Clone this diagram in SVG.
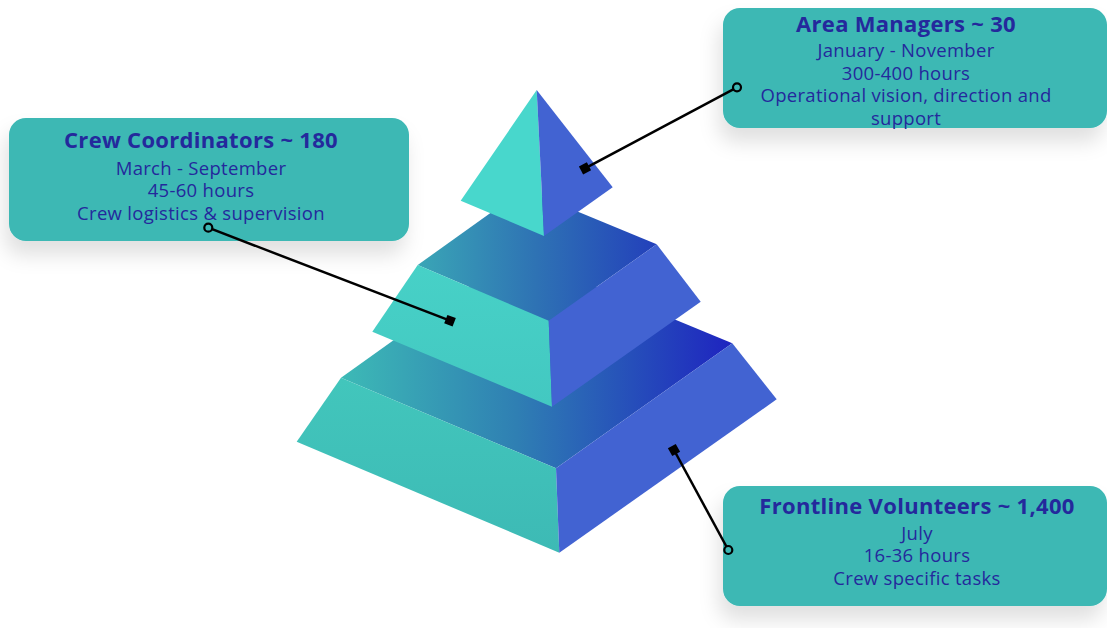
<svg xmlns="http://www.w3.org/2000/svg" width="1107" height="628" viewBox="0 0 1107 628">
<defs>
<filter id="sh" x="-20%" y="-30%" width="140%" height="170%">
<feDropShadow dx="-4" dy="14" stdDeviation="10" flood-color="#000" flood-opacity="0.12"/>
</filter>
<linearGradient id="gMid" gradientUnits="userSpaceOnUse" x1="417" y1="0" x2="657" y2="0">
<stop offset="0" stop-color="#3aa6b6"/><stop offset="0.5" stop-color="#2e72b4"/><stop offset="1" stop-color="#2340bb"/>
</linearGradient>
<linearGradient id="gBot" gradientUnits="userSpaceOnUse" x1="341" y1="0" x2="732" y2="0">
<stop offset="0" stop-color="#3dbab6"/><stop offset="0.45" stop-color="#2f7fb3"/><stop offset="1" stop-color="#1e24c0"/>
</linearGradient>
<linearGradient id="gLeftB" x1="0" y1="0" x2="0" y2="1">
<stop offset="0" stop-color="#42c6bc"/><stop offset="1" stop-color="#3dbab5"/>
</linearGradient>
<linearGradient id="gLeftM" x1="0" y1="0" x2="0" y2="1">
<stop offset="0" stop-color="#47d1c7"/><stop offset="1" stop-color="#43c8c1"/>
</linearGradient>
</defs>
<style>
.box{fill:#3cb8b4}
.title{font-family:"Open Sans","Liberation Sans",sans-serif;font-weight:bold;font-size:22px;letter-spacing:0.3px;fill:#24299c;text-anchor:middle}
.body{font-family:"Open Sans","Liberation Sans",sans-serif;font-size:18.5px;letter-spacing:0.3px;fill:#24299c;text-anchor:middle}
.right{fill:#4263d2}
.con{stroke:#000;stroke-width:2.5;fill:none}
.dot{fill:#3cb8b4;stroke:#000;stroke-width:2.2}
</style>
<rect width="1107" height="628" fill="#fff"/>
<g id="pyramid">
<g id="tier-bottom">
<polygon points="341,377.7 515,253.4 732.3,343.3 556,468.3" fill="url(#gBot)"/>
<polygon points="341,377.7 556,468.3 559.3,552.7 296.7,441.7" fill="url(#gLeftB)"/>
<polygon points="556,468.3 732.3,343.3 776.7,399.3 559.3,552.7" class="right"/>
</g>
<g id="tier-middle">
<polygon points="417.7,265 523.6,189.3 656.7,244.3 548.7,320.7" fill="url(#gMid)"/>
<polygon points="417.7,265 548.7,320.7 552,406.7 372.3,331.7" fill="url(#gLeftM)"/>
<polygon points="548.7,320.7 656.7,244.3 700.7,301.7 552,406.7" class="right"/>
</g>
<g id="tier-top">
<polygon points="536.7,90 544,236 460.7,200.7" fill="#48d7cc"/>
<polygon points="536.7,90 612.7,187.3 544,236" class="right"/>
</g>
</g>
<g id="area-managers">
<rect x="723" y="8" width="384" height="120" rx="17" class="box" filter="url(#sh)"/>
<text class="title" x="906" y="31.5">Area Managers ~ 30</text>
<text class="body" x="906" y="56.5">January - November</text>
<text class="body" x="906" y="79.5">300-400 hours</text>
<text class="body" x="906" y="102">Operational vision, direction and</text>
<text class="body" x="906" y="124.5">support</text>
</g>
<g id="crew-coordinators">
<rect x="9" y="118" width="400" height="123" rx="17" class="box" filter="url(#sh)"/>
<text class="title" x="201" y="147.5">Crew Coordinators ~ 180</text>
<text class="body" x="201" y="174.5">March - September</text>
<text class="body" x="201" y="197">45-60 hours</text>
<text class="body" x="201" y="219.5">Crew logistics &amp; supervision</text>
</g>
<g id="frontline-volunteers">
<rect x="723" y="486" width="384" height="120" rx="17" class="box" filter="url(#sh)"/>
<text class="title" x="917" y="513.5">Frontline Volunteers ~ 1,400</text>
<text class="body" x="917" y="540">July</text>
<text class="body" x="917" y="562">16-36 hours</text>
<text class="body" x="917" y="584.5">Crew specific tasks</text>
</g>
<g id="connectors">
<line class="con" x1="585" y1="168.3" x2="737" y2="87.3"/>
<rect x="580.5" y="163.8" width="9" height="9" transform="rotate(-28 585 168.3)"/>
<circle class="dot" cx="737" cy="87.3" r="4"/>
<line class="con" x1="450" y1="320.7" x2="208.3" y2="227.7"/>
<rect x="445.5" y="316.2" width="9" height="9" transform="rotate(21 450 320.7)"/>
<circle class="dot" cx="208.3" cy="227.7" r="4"/>
<line class="con" x1="674" y1="450" x2="728.3" y2="550"/>
<rect x="669.5" y="445.5" width="9" height="9" transform="rotate(61 674 450)"/>
<circle class="dot" cx="728.3" cy="550" r="4"/>
</g>
</svg>
